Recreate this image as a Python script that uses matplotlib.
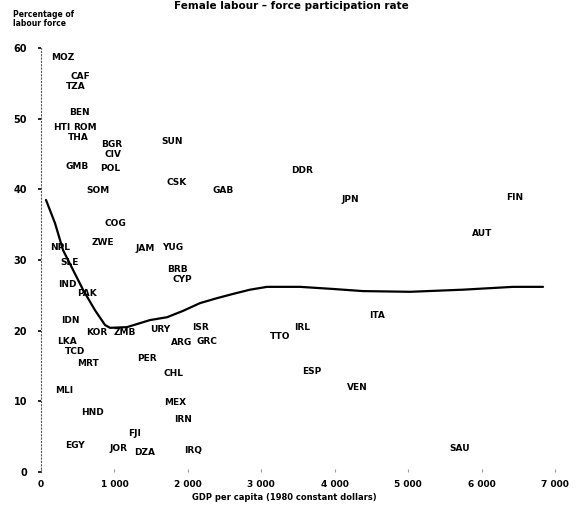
import numpy as np
import matplotlib
matplotlib.use('Agg')
import matplotlib.pyplot as plt

#Country labels, GDP per capita (1980 $) and female share of labour force (%)
codes = ['MOZ','CAF','TZA','BEN','HTI','ROM','THA','BGR','SUN','CIV',
         'GMB','POL','CSK','SOM','GAB','COG','ZWE','JAM','YUG','NPL',
         'SLE','BRB','CYP','IND','PAK','IDN','KOR','ZMB','URY','ISR',
         'TTO','LKA','ARG','GRC','TCD','MRT','PER','CHL','MLI','MEX',
         'HND','IRN','FJI','EGY','JOR','DZA','IRQ','DDR','JPN','FIN',
         'AUT','ITA','IRL','ESP','VEN','SAU']
gdp = [300,531,477,518,286,599,504,967,1784,981,
       490,940,1852,776,2479,1008,844,1416,1798,259,
       395,1852,1920,354,626,395,763,1144,1621,2166,
       3255,354,1920,2261,463,640,1444,1798,313,1825,
       708,1934,1280,463,1049,1416,2070,3555,4209,6456,
       6006,4576,3555,3691,4304,5707]
share = [58.7,55.9,54.5,50.9,48.8,48.8,47.4,46.4,46.7,44.9,
         43.3,43.0,41.0,39.8,39.8,35.2,32.5,31.6,31.7,31.8,
         29.7,28.7,27.3,26.5,25.3,21.5,19.8,19.8,20.1,20.4,
         19.2,18.5,18.3,18.5,17.1,15.4,16.1,14.0,11.6,9.8,
         8.4,7.4,5.4,3.8,3.3,2.7,3.1,42.7,38.6,38.9,
         33.8,22.2,20.4,14.2,12.0,3.3]

#Fitted curve
curve_x = [68,191,300,436,572,735,872,940,1171,1485,1716,1934,2166,2397,
           2615,2847,3078,3296,3528,3977,4386,5026,5748,6429,6837]
curve_y = [38.5,35.2,31.4,28.6,25.8,22.9,20.8,20.4,20.5,21.5,21.9,22.8,23.9,24.6,
           25.2,25.8,26.2,26.2,26.2,25.9,25.6,25.5,25.8,26.2,26.2]

x_ticks = [0,1000,2000,3000,4000,5000,6000,7000]
x_labels = ['0','1 000','2 000','3 000','4 000','5 000','6 000','7 000']
y_ticks = [0,10,20,30,40,50,60]

fig = plt.figure(figsize=(5.87,5.14), dpi=100)
ax = fig.add_axes([41/587, 1-472/514, (555-41)/587, (472-48)/514])

for c, xv, yv in zip(codes, gdp, share):
    ax.text(xv, yv, c, ha='center', va='center', fontsize=6.5,
            fontweight='bold', color='black')

ax.plot(curve_x, curve_y, c='black', lw=1.6, solid_capstyle='round')

ax.set_xlim(0,7000)
ax.set_ylim(0,60)
ax.set_xticks(x_ticks)
ax.set_xticklabels(x_labels)
ax.set_yticks(y_ticks)
for s in ['top','right','bottom']:
    ax.spines[s].set_visible(False)
ax.spines['left'].set_linestyle((0,(1,2)))
ax.spines['left'].set_color('#555555')
ax.spines['left'].set_linewidth(0.8)
ax.tick_params(axis='y', direction='out', length=2, width=1.2, pad=8,
               labelsize=7)
ax.tick_params(axis='x', direction='in', length=2, width=0.8, color='#999999',
               pad=6, labelsize=6.5)
for lab in ax.get_xticklabels() + ax.get_yticklabels():
    lab.set_fontweight('bold')

fig.text(291/587, 1-6/514, 'Female labour – force participation rate',
         ha='center', va='center', fontsize=7.5, fontweight='bold')
fig.text(13/587, 1-19/514, 'Percentage of\nlabour force', ha='left',
         va='center', fontsize=5.5, fontweight='bold', linespacing=1.1)
fig.text(284/587, 1-498/514, 'GDP per capita (1980 constant dollars)',
         ha='center', va='center', fontsize=6, fontweight='bold')

fig.savefig('out.png', dpi=100)
